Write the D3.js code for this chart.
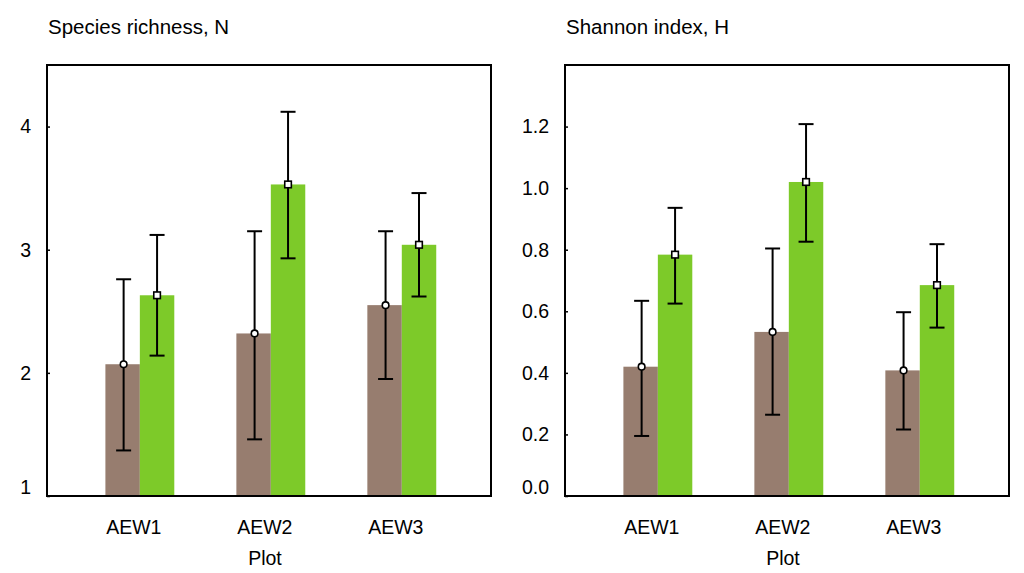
<!DOCTYPE html>
<html>
<head>
<meta charset="utf-8">
<script src="https://cdn.jsdelivr.net/npm/d3@7"></script>
<style>
  html, body { margin: 0; padding: 0; background: #fff; }
  svg { display: block; }
  text { font-family: "Liberation Sans", Arial, sans-serif; fill: #000; }
</style>
</head>
<body>
<svg id="chart" width="1024" height="573"></svg>
<script>
// ---- data ----
const categories = ["AEW1", "AEW2", "AEW3"];

const richnessTicks = [1, 2, 3, 4];
const richnessTickLabels = ["1", "2", "3", "4"];
const richnessBrown = [2.07, 2.32, 2.55];
const richnessBrownLow = [1.37, 1.46, 1.95];
const richnessBrownHigh = [2.76, 3.15, 3.15];
const richnessGreen = [2.63, 3.53, 3.04];
const richnessGreenLow = [2.14, 2.93, 2.62];
const richnessGreenHigh = [3.12, 4.12, 3.46];

const shannonTicks = [0, 0.2, 0.4, 0.6, 0.8, 1.0, 1.2];
const shannonTickLabels = ["0.0", "0.2", "0.4", "0.6", "0.8", "1.0", "1.2"];
const shannonBrown = [0.42, 0.533, 0.408];
const shannonBrownLow = [0.195, 0.264, 0.216];
const shannonBrownHigh = [0.634, 0.804, 0.597];
const shannonGreen = [0.784, 1.02, 0.685];
const shannonGreenLow = [0.625, 0.826, 0.547];
const shannonGreenHigh = [0.936, 1.208, 0.818];

// ---- drawing ----
const svg = d3.select("#chart");
const BROWN = "#977d6f";
const GREEN = "#7dca29";
const FONT = 19.5;
const TITLE_FONT = 20.5;

function panel(opts) {
  const { left, right, top, bottom, domain, ticks, tickLabels, title, series } = opts;
  const g = svg.append("g");

  const x = d3.scalePoint().domain(categories).range([left, right]).padding(0.695).align(0.51);
  const y = d3.scaleLinear().domain(domain).range([bottom, top]);
  const bw = x.step() * 0.263;

  // bars
  series.forEach((s, si) => {
    const offset = si === 0 ? -bw : 0;
    g.append("g").selectAll("rect").data(categories).join("rect")
      .attr("x", d => x(d) + offset)
      .attr("width", bw)
      .attr("y", (d, i) => y(s.values[i]))
      .attr("height", (d, i) => y(domain[0]) - y(s.values[i]))
      .attr("fill", s.color);
  });

  // error bars
  series.forEach((s, si) => {
    const offset = si === 0 ? -bw / 2 + 1 : bw / 2;
    const eg = g.append("g").attr("stroke", "#000").attr("stroke-width", 2).attr("fill", "none");
    categories.forEach((c, i) => {
      const cx = x(c) + offset;
      eg.append("line").attr("x1", cx).attr("x2", cx).attr("y1", y(s.low[i])).attr("y2", y(s.high[i]));
      eg.append("line").attr("x1", cx - 7.5).attr("x2", cx + 7.5).attr("y1", y(s.low[i])).attr("y2", y(s.low[i]));
      eg.append("line").attr("x1", cx - 7.5).attr("x2", cx + 7.5).attr("y1", y(s.high[i])).attr("y2", y(s.high[i]));
    });
    // markers
    const mg = g.append("g").attr("stroke", "#000").attr("stroke-width", 1.6).attr("fill", "#fff");
    categories.forEach((c, i) => {
      const cx = x(c) + offset;
      const cy = y(s.values[i]);
      if (s.marker === "circle") {
        mg.append("circle").attr("cx", cx).attr("cy", cy).attr("r", 3.3);
      } else {
        mg.append("rect").attr("x", cx - 3.3).attr("y", cy - 3.3).attr("width", 6.6).attr("height", 6.6);
      }
    });
  });

  // frame
  g.append("rect")
    .attr("x", left).attr("y", top)
    .attr("width", right - left).attr("height", bottom - top)
    .attr("fill", "none").attr("stroke", "#000").attr("stroke-width", 2);

  // y axis ticks (inward) and labels
  const yAxis = d3.axisRight(y).tickValues(ticks).tickSize(3).tickFormat("");
  g.append("g").attr("transform", `translate(${left},0)`).call(yAxis)
    .call(a => a.select(".domain").remove())
    .call(a => a.selectAll("line").attr("stroke", "#000").attr("stroke-width", 1.5));

  g.append("g").selectAll("text").data(ticks).join("text")
    .attr("x", left - 16)
    .attr("y", d => y(d) + (d === domain[0] ? -9 : 0))
    .attr("dy", "0.35em")
    .attr("text-anchor", "end")
    .attr("font-size", FONT)
    .text((d, i) => tickLabels[i]);

  // x category labels
  g.append("g").selectAll("text").data(categories).join("text")
    .attr("x", d => x(d) - 6)
    .attr("y", 534)
    .attr("text-anchor", "middle")
    .attr("font-size", FONT)
    .text(d => d);

  g.append("text")
    .attr("x", (left + right) / 2 - 4)
    .attr("y", 565)
    .attr("text-anchor", "middle")
    .attr("font-size", FONT)
    .text("Plot");

  g.append("text")
    .attr("x", left + 1)
    .attr("y", 34)
    .attr("font-size", TITLE_FONT)
    .text(title);
}

panel({
  left: 47, right: 491, top: 65, bottom: 496,
  domain: [1, 4.5],
  ticks: richnessTicks, tickLabels: richnessTickLabels,
  title: "Species richness, N",
  series: [
    { values: richnessBrown, low: richnessBrownLow, high: richnessBrownHigh, color: BROWN, marker: "circle" },
    { values: richnessGreen, low: richnessGreenLow, high: richnessGreenHigh, color: GREEN, marker: "square" }
  ]
});

panel({
  left: 565, right: 1009, top: 65, bottom: 496,
  domain: [0, 1.4],
  ticks: shannonTicks, tickLabels: shannonTickLabels,
  title: "Shannon index, H",
  series: [
    { values: shannonBrown, low: shannonBrownLow, high: shannonBrownHigh, color: BROWN, marker: "circle" },
    { values: shannonGreen, low: shannonGreenLow, high: shannonGreenHigh, color: GREEN, marker: "square" }
  ]
});
</script>
</body>
</html>
